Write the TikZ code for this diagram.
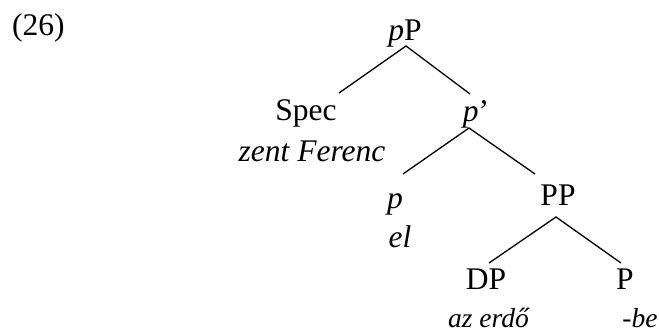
\documentclass[tikz,border=0pt]{standalone}
\usepackage{fontspec}
\setmainfont{Liberation Serif}
\begin{document}
\begin{tikzpicture}[x=1pt,y=-1pt,
  lbl/.style={anchor=base, inner sep=0pt, font=\fontsize{31.5}{36}\selectfont},
  small/.style={lbl, font=\fontsize{27.5}{32}\selectfont},
  branch/.style={line width=1.3pt}]
\useasboundingbox (0,0) rectangle (659,334);
% labels
\node[lbl, anchor=base west] (ex) at (12,36) {(26)};
\node[lbl] (pP) at (405,41) {\textit{p}P};
\node[lbl] (spec) at (306,121) {Spec};
\node[lbl] (zf) at (312,162) {\textit{zent Ferenc}};
\node[lbl] (pbar) at (476,122) {\textit{p}’};
\node[lbl] (p) at (395,208) {\textit{p}};
\node[lbl] (el) at (400,247) {\textit{el}};
\node[lbl] (PP) at (558,205) {PP};
\node[lbl] (DP) at (486,289) {DP};
\node[lbl] (P) at (625,289) {P};
\node[small] (azerdo) at (489,327) {\textit{az erdő}};
\node[small] (be) at (640,327) {\textit{-be}};
% branch points
\coordinate (pP-top) at (406,46);
\coordinate (spec-top) at (339,93);
\coordinate (pbar-top) at (470,94);
\coordinate (pbar-bot) at (469,128);
\coordinate (p-top) at (403,174);
\coordinate (PP-top) at (535,174);
\coordinate (PP-bot) at (556,217);
\coordinate (DP-top) at (489,263);
\coordinate (P-top) at (621,263);
% branches
\draw[branch] (spec-top) -- (pP-top) -- (pbar-top);
\draw[branch] (p-top) -- (pbar-bot) -- (PP-top);
\draw[branch] (DP-top) -- (PP-bot) -- (P-top);
\end{tikzpicture}
\end{document}
